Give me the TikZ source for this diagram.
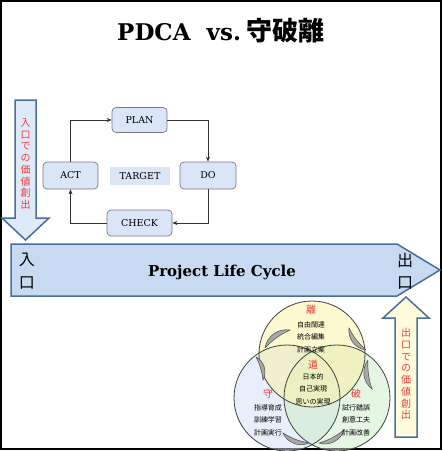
\documentclass[tikz,border=0pt]{standalone}
\usepackage{fontspec}
\setmainfont{DejaVu Serif}
\newfontfamily\cjk{Noto Sans CJK JP}
\usetikzlibrary{arrows.meta}
\definecolor{boxfill}{HTML}{DAE6F7}
\definecolor{boxline}{HTML}{7A7A7A}
\definecolor{arrline}{HTML}{4A6D9C}
\definecolor{bigfill}{HTML}{C8DAF1}
\definecolor{downfill}{HTML}{DFEAF8}
\definecolor{upfill}{HTML}{FFFCDC}
\definecolor{redtxt}{HTML}{F03A3A}
\definecolor{vblue}{RGB}{210,224,246}
\definecolor{vyellow}{RGB}{251,242,160}
\definecolor{vgreen}{RGB}{205,238,200}
\definecolor{leafgray}{HTML}{A8A8A8}
\tikzset{
  pdca/.style={draw=boxline, fill=boxfill, rounded corners=4pt, line width=0.7pt,
    font=\fontsize{9.5}{11}\selectfont, inner sep=0pt},
  link/.style={draw=black!80, line width=0.6pt, -{Stealth[length=5pt,width=4pt]}},
  vtext/.style={font=\cjk\fontsize{10}{11.7}\selectfont, text=redtxt, align=center, inner sep=0pt},
  vhead/.style={font=\cjk\fontsize{10}{11}\selectfont, text=redtxt, inner sep=0pt},
  vbody/.style={font=\cjk\fontsize{7}{12.5}\selectfont, align=center, inner sep=0pt},
  circ/.style={draw=black!75, line width=0.8pt},
  leaf/.style={fill=leafgray, draw=black!70, line width=0.5pt},
  cjkbig/.style={font=\cjk\fontsize{16}{18}\selectfont, inner sep=0pt}
}
\begin{document}
\begin{tikzpicture}[x=1pt,y=-1pt]
\useasboundingbox (0,0) rectangle (443,451);
\fill[white] (0,0) rectangle (443,451);
\draw[line width=1.5pt] (1,1) rectangle (441,449);

% title
\node (title) at (221,31) {\fontsize{23}{26}\selectfont\bfseries PDCA\hspace{0.7em}vs.\hspace{0.25em}{\cjk\fontsize{26}{28}\selectfont 守破離}};

% left down arrow
\draw[fill=downfill, draw=arrline, line width=1.5pt, line join=miter]
  (15,100) -- (36,100) -- (36,218) -- (49,218) -- (25.5,240) -- (2,218) -- (15,218) -- cycle;
\node[vtext] (intext) at (25.5,164) {入\\口\\で\\の\\価\\値\\創\\出};

% PDCA cycle
\node[pdca, minimum width=55pt, minimum height=25pt] (plan) at (139.5,120) {PLAN};
\node[pdca, minimum width=56pt, minimum height=27pt] (do) at (208,175.5) {DO};
\node[pdca, minimum width=55pt, minimum height=27pt] (act) at (70.5,175.5) {ACT};
\node[pdca, minimum width=65pt, minimum height=26pt] (check) at (139.5,223) {CHECK};
\node[fill=boxfill, minimum width=60pt, minimum height=18pt, inner sep=0pt,
  font=\fontsize{9.5}{11}\selectfont] (target) at (140,176) {TARGET};
\draw[link] (act.north) |- (plan.west);
\draw[link] (plan.east) -| (do.north);
\draw[link] (do.south) |- (check.east);
\draw[link] (check.west) -| (act.south);

% big arrow
\draw[fill=bigfill, draw=arrline, line width=1.5pt, line join=miter]
  (11,244) -- (397,244) -- (440,270) -- (397,296) -- (11,296) -- cycle;
\node (plc) at (222,272) {\fontsize{15}{16}\selectfont\bfseries Project Life Cycle};
\node[cjkbig] (iri) at (27,260) {入};
\node[cjkbig] (iri2) at (27,283) {口};
\node[cjkbig] (de) at (405,260) {出};
\node[cjkbig] (de2) at (405,283) {口};

% right up arrow
\draw[fill=upfill, draw=arrline, line width=1.5pt, line join=miter]
  (395,437) -- (417,437) -- (417,318) -- (429,318) -- (406,297) -- (383,318) -- (395,318) -- cycle;
\node[vtext] (outtext) at (406,374) {出\\口\\で\\の\\価\\値\\創\\出};

% Venn
\fill[vblue, fill opacity=0.5] (287,398) circle (53);
\fill[vgreen, fill opacity=0.5] (337,398) circle (53);
\fill[vyellow, fill opacity=0.5] (312,354) circle (53);
\draw[circ] (287,398) circle (53);
\draw[circ] (337,398) circle (53);
\draw[circ] (312,354) circle (53);

% leaves
\draw[leaf] (265,348) to[bend left=45] (290,330) to[bend right=10] (265,348);
\draw[leaf] (256,357) to[bend left=45] (263,380) to[bend right=10] (256,357);
\draw[leaf] (366,350) to[bend left=45] (349,328) to[bend right=10] (366,350);
\draw[leaf] (368,360) to[bend right=45] (372,389) to[bend left=10] (368,360);
\draw[leaf] (309,443) to[bend left=45] (283,433) to[bend right=10] (309,443);
\draw[leaf] (319,443) to[bend right=45] (344,430) to[bend left=10] (319,443);

\node[vhead] (ri) at (311,310) {離};
\node[vbody] (ritext) at (311,337) {自由闊達\\統合編集\\計画立案};
\node[vhead] (michi) at (313,365) {道};
\node[vbody] (michitext) at (313,389) {日本的\\自己実現\\思いの実現};
\node[vhead] (shu) at (268,394) {守};
\node[vbody] (shutext) at (268,420) {指導育成\\訓練学習\\計画実行};
\node[vhead] (ha) at (356,394) {破};
\node[vbody] (hatext) at (356,420) {試行錯誤\\創意工夫\\計画改善};
\end{tikzpicture}
\end{document}
